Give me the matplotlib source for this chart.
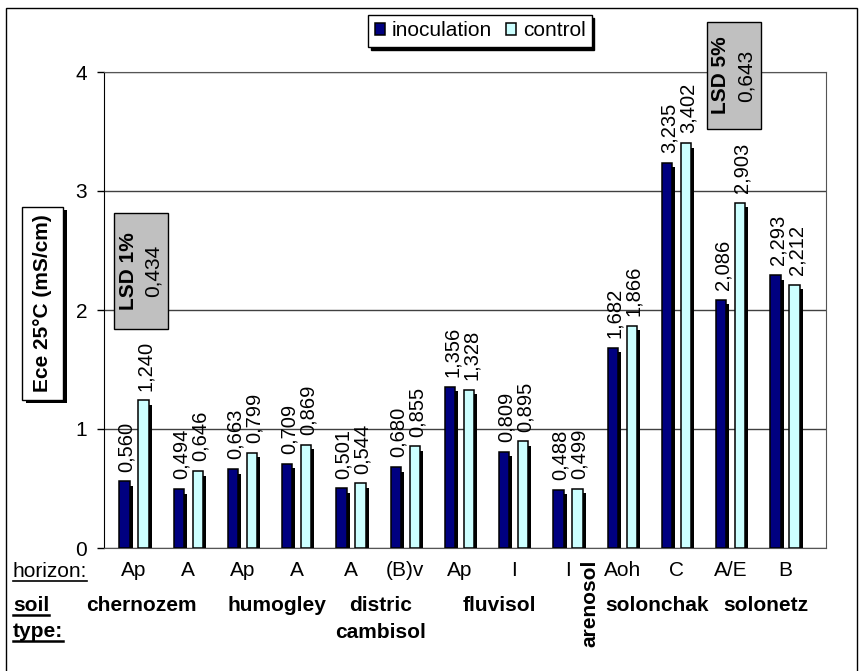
import matplotlib
matplotlib.use("Agg")
import matplotlib.pyplot as plt
from matplotlib import patheffects
from matplotlib.patches import Rectangle
from matplotlib.lines import Line2D
from matplotlib.transforms import blended_transform_factory
import numpy as np

plt.rcParams["font.family"] = ["Liberation Sans", "DejaVu Sans"]

# data
horizons = ["Ap", "A", "Ap", "A", "A", "(B)v", "Ap", "I", "I", "Aoh", "C", "A/E", "B"]
inoculation = [0.560, 0.494, 0.663, 0.709, 0.501, 0.680, 1.356, 0.809, 0.488, 1.682, 3.235, 2.086, 2.293]
control = [1.240, 0.646, 0.799, 0.869, 0.544, 0.855, 1.328, 0.895, 0.499, 1.866, 3.402, 2.903, 2.212]
soil_types = ["chernozem", "humogley", "distric\ncambisol", "fluvisol", "arenosol", "solonchak", "solonetz"]
soil_first = [0, 2, 4, 6, 8, 9, 11]
soil_last = [1, 3, 5, 7, 8, 10, 12]
lsd_labels = ["LSD 1%", "LSD 5%"]
lsd_values = [0.434, 0.643]

W, H = 868, 671
fig = plt.figure(figsize=(W / 100, H / 100), dpi=100)


def fx(x):
    return x / W


def fy(y):
    return 1 - y / H


def comma(v):
    return f"{v:.3f}".replace(".", ",")


ax = fig.add_axes([fx(104), fy(548), fx(826) - fx(104), fy(72) - fy(548)])

x = np.arange(len(horizons))
bw = 0.19
b1 = ax.bar(x - 0.175, inoculation, bw, color="#000080", edgecolor="black",
            linewidth=1.1, label="inoculation", zorder=3)
b2 = ax.bar(x + 0.175, control, bw, color="#CCFFFF", edgecolor="black",
            linewidth=1.1, label="control", zorder=3)

leg = ax.legend(loc="center", bbox_to_anchor=(fx(480), fy(31)), bbox_transform=fig.transFigure,
                ncol=2, fontsize=15, frameon=True, fancybox=False, edgecolor="black",
                shadow={"color": "black", "alpha": 1}, handlelength=0.5, handleheight=0.55,
                handletextpad=0.3, columnspacing=0.7, borderpad=0.3, borderaxespad=0)
leg.get_frame().set_linewidth(1)
leg.get_frame().set_alpha(1)

# bar shadows (after the legend so the legend keys stay flat)
shadow = [patheffects.SimplePatchShadow(offset=(2.2, -3.2), shadow_rgbFace="black", alpha=1.0),
          patheffects.Normal()]
for bars in (b1, b2):
    for p in bars:
        p.set_path_effects(shadow)

for xs, vals in ((x - 0.175, inoculation), (x + 0.175, control)):
    for xi, v in zip(xs, vals):
        ax.annotate(comma(v), (xi, v), xytext=(1.5, 7), textcoords="offset points",
                    rotation=90, ha="center", va="bottom", fontsize=14.5, zorder=5)

ax.set_xlim(-0.553, 12.756)
ax.set_ylim(0, 4)
ax.set_yticks([0, 1, 2, 3, 4])
ax.tick_params(axis="y", labelsize=15, length=5, width=1, pad=7, direction="out")
ax.set_xticks(x, horizons)
ax.tick_params(axis="x", labelsize=15, length=0, pad=9)
ax.yaxis.grid(True, color="#404040", linewidth=1)
ax.set_axisbelow(True)
ax.spines["left"].set_color("black")
for s in ("top", "right", "bottom"):
    ax.spines[s].set_color("#555555")

# soil type labels under the horizons
trans = blended_transform_factory(ax.transData, fig.transFigure)
nudge = [-0.37, 0.13, 0.05, 0.23, 0.41, 0.15, 0.14]
for name, a, b, dx in zip(soil_types, soil_first, soil_last, nudge):
    xc = (a + b) / 2 + dx
    if name == "arenosol":
        ax.text(xc, fy(603), name, transform=trans, rotation=90, ha="center", va="center",
                fontsize=15, fontweight="bold")
        continue
    for k, line in enumerate(name.split("\n")):
        ax.text(xc, fy(611 + 27 * k), line, transform=trans, ha="center", va="baseline",
                fontsize=15, fontweight="bold")

t_hor = fig.text(fx(13), fy(577), "horizon:", fontsize=15, va="baseline")
t_soil = fig.text(fx(13), fy(611), "soil", fontsize=15, fontweight="bold", va="baseline")
t_type = fig.text(fx(13), fy(637), "type:", fontsize=15, fontweight="bold", va="baseline")

# y label in a framed box with shadow
ybox = Rectangle((fx(22), fy(400)), fx(63) - fx(22), fy(207) - fy(400),
                 transform=fig.transFigure, fc="white", ec="black", lw=1, zorder=4)
ybox.set_path_effects([patheffects.SimplePatchShadow(offset=(3, -2.5), shadow_rgbFace="black",
                                                     alpha=1.0),
                       patheffects.Normal()])
fig.add_artist(ybox)
fig.text(fx(43), fy(303.5), "Ece 25°C (mS/cm)", rotation=90, ha="center", va="center",
         fontsize=15, fontweight="bold", zorder=5)

# LSD boxes
lsd_boxes = [(114, 213, 168, 329), (707, 22, 761, 129)]
for lab, val, (x0, y0, x1, y1) in zip(lsd_labels, lsd_values, lsd_boxes):
    fig.add_artist(Rectangle((fx(x0), fy(y1)), fx(x1) - fx(x0), fy(y0) - fy(y1),
                             transform=fig.transFigure, fc="#C0C0C0", ec="black", lw=1, zorder=6))
    xm = (x0 + x1) / 2
    ym = (y0 + y1) / 2
    fig.text(fx(xm - 13), fy(ym), lab, rotation=90, ha="center", va="center",
             fontsize=15, fontweight="bold", zorder=7)
    fig.text(fx(xm + 12), fy(ym), comma(val), rotation=90, ha="center", va="center",
             fontsize=15, zorder=7)

# outer frame (bottom edge falls outside the picture)
fig.add_artist(Rectangle((fx(6), fy(690)), fx(857) - fx(6), fy(8) - fy(690),
                         transform=fig.transFigure, fill=False, ec="black", lw=1))

# underline the row captions
fig.canvas.draw()
renderer = fig.canvas.get_renderer()
for t, lw in ((t_hor, 1.2), (t_soil, 1.8), (t_type, 1.8)):
    bb = t.get_window_extent(renderer)
    yy = (bb.y0 + 0.5) / fig.bbox.height
    fig.add_artist(Line2D([bb.x0 / fig.bbox.width, bb.x1 / fig.bbox.width], [yy, yy],
                          transform=fig.transFigure, color="black", lw=lw))

fig.savefig("out.png", dpi=100)
